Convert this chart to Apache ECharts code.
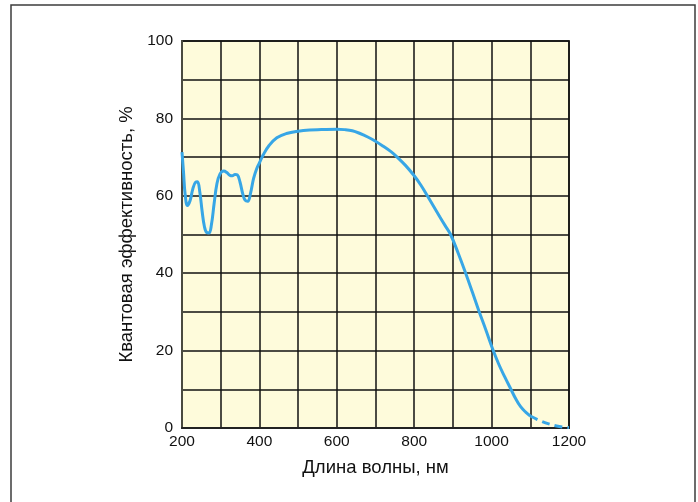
<!DOCTYPE html>
<html>
<head>
<meta charset="utf-8">
<script src="https://cdn.jsdelivr.net/npm/echarts@6/dist/echarts.min.js"></script>
<style>
  html, body { margin: 0; padding: 0; background: #ffffff; }
  #chart { width: 698px; height: 502px; }
</style>
</head>
<body>
<div id="chart"></div>
<script>
// Measured quantum efficiency (%) vs wavelength (nm)
const wavelengthSolid = [200, 204, 208, 214, 221, 228, 235, 240, 246, 252, 258, 264, 270, 276, 283, 290, 298, 308, 316, 324, 330, 337, 343, 350, 357, 363, 370, 377, 385, 393, 400, 410, 425, 445, 470, 500, 530, 560, 600, 620, 640, 660, 680, 700, 720, 740, 756, 778, 799, 817, 834, 850, 866, 880, 894, 914, 933, 950, 967, 985, 1002, 1018, 1034, 1049, 1062, 1075, 1088, 1100];
const qeSolid = [71.3, 66, 60.5, 57.5, 58.8, 61.8, 63.5, 63.6, 61, 56, 52, 50.5, 50.4, 52.5, 58, 63, 65.6, 66.4, 66, 65.3, 65.2, 65.5, 65.4, 63.5, 60.5, 58.9, 58.6, 60.6, 64.5, 67, 68.5, 70.6, 73, 75, 76.1, 76.7, 77, 77.1, 77.2, 77.1, 76.8, 76.1, 75.2, 74.1, 72.8, 71.4, 70, 67.8, 65.3, 62.8, 60, 57.3, 54.6, 52.3, 50, 45.1, 40, 35.2, 30.3, 25.4, 20.6, 16.6, 13.2, 10.2, 7.6, 5.5, 4.1, 3.1];

// Extrapolated tail, drawn dashed
const wavelengthDashed = [1100, 1127, 1150, 1175, 1200];
const qeDashed = [3.1, 1.8, 1.0, 0.4, 0.1];

const xTickLabels = [200, 400, 600, 800, 1000, 1200];
const yTickLabels = [0, 20, 40, 60, 80, 100];

const xTitle = 'Длина волны, нм';
const yTitle = 'Квантовая эффективность, %';

const pairs = (xs, ys) => xs.map((x, i) => [x, ys[i]]);

const chart = echarts.init(document.getElementById('chart'), null, { renderer: 'canvas' });

const FONT = '"Liberation Sans", Arial, sans-serif';
const gridLine = { show: true, lineStyle: { color: '#111', width: 1.5 } };

chart.setOption({
  animation: false,
  backgroundColor: '#ffffff',
  textStyle: { fontFamily: FONT },
  graphic: [{
    type: 'rect',
    silent: true,
    shape: { x: 11, y: 5, width: 684, height: 520 },
    style: { fill: 'none', stroke: '#3c3c3c', lineWidth: 1.5 }
  }],
  grid: {
    left: 182, right: 129, top: 41, bottom: 74,
    show: true,
    backgroundColor: '#fefbdb',
    borderColor: '#4a4a40',
    borderWidth: 2
  },
  xAxis: {
    type: 'value',
    min: 200, max: 1200, interval: 100,
    name: xTitle,
    nameLocation: 'middle',
    nameGap: 30,
    nameTextStyle: { fontSize: 18.5, color: '#111', fontFamily: FONT },
    axisLine: { show: true, onZero: false, lineStyle: { color: '#222', width: 2 } },
    axisTick: { show: false },
    axisLabel: {
      margin: 6,
      fontSize: 15.5, color: '#111', fontFamily: FONT,
      formatter: v => xTickLabels.includes(v) ? String(v) : ''
    },
    splitLine: gridLine
  },
  yAxis: {
    type: 'value',
    min: 0, max: 100, interval: 10,
    name: yTitle,
    nameLocation: 'middle',
    nameGap: 45,
    nameRotate: 90,
    nameTextStyle: { fontSize: 18.5, color: '#111', fontFamily: FONT },
    axisLine: { show: true, lineStyle: { color: '#4a4a40', width: 2 } },
    axisTick: { show: false },
    axisLabel: {
      margin: 9,
      fontSize: 15.5, color: '#111', fontFamily: FONT,
      formatter: v => yTickLabels.includes(v) ? String(v) : ''
    },
    splitLine: gridLine
  },
  series: [
    {
      type: 'line',
      data: pairs(wavelengthSolid, qeSolid),
      smooth: 0.4,
      symbol: 'none',
      lineStyle: { color: '#37a6e6', width: 3 },
      z: 5
    },
    {
      type: 'line',
      data: pairs(wavelengthDashed, qeDashed),
      smooth: 0.4,
      symbol: 'none',
      lineStyle: { color: '#37a6e6', width: 3, type: [8, 5] },
      z: 5
    }
  ]
});
</script>
</body>
</html>
